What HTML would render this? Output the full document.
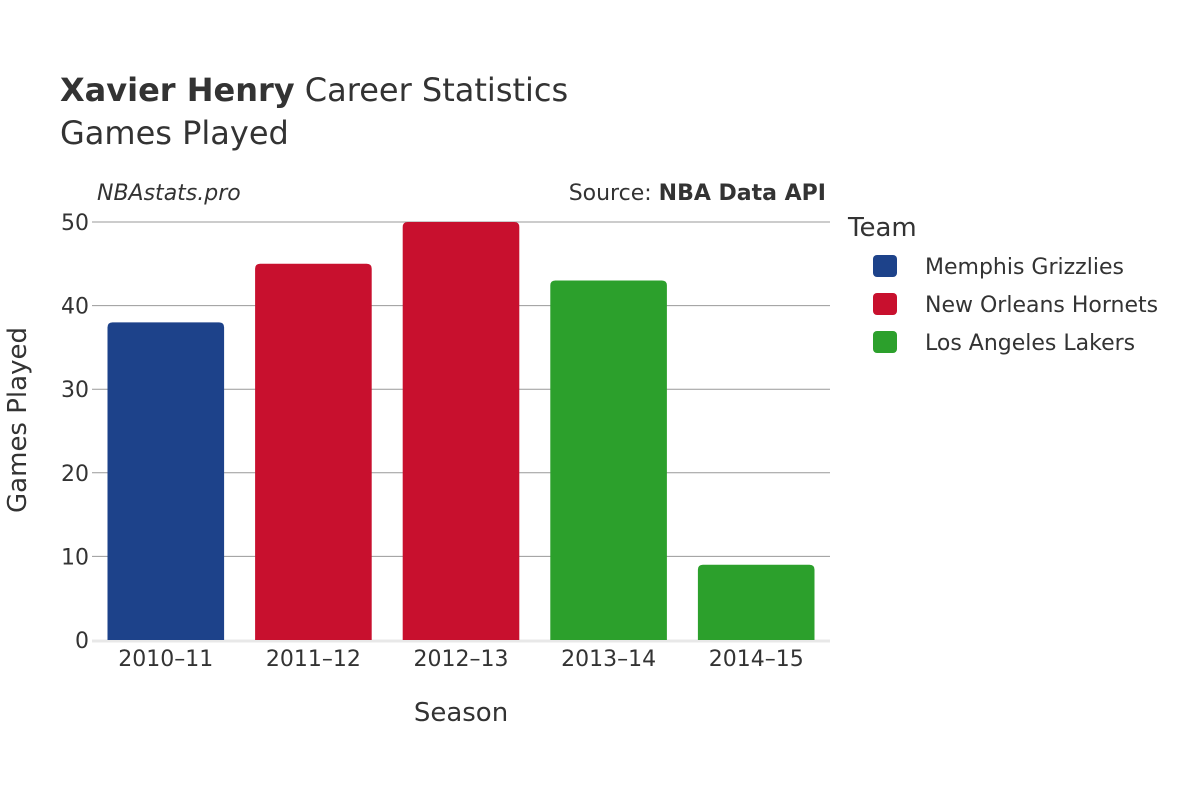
<!DOCTYPE html>
<html><head><meta charset="utf-8"><style>
body{margin:0;background:#fff;}
svg{display:block;font-family:"DejaVu Sans","Liberation Sans",sans-serif;}
</style></head><body>
<svg id="chart" width="1200" height="800" viewBox="0 0 1200 800">
<text x="60" y="101" font-size="32" fill="#333"><tspan font-weight="bold">Xavier Henry</tspan> Career Statistics</text>
<text x="60" y="144" font-size="32" fill="#333">Games Played</text>
<text x="97" y="200" font-size="22" font-style="italic" fill="#333">NBAstats.pro</text>
<text x="826" y="200" font-size="22" fill="#333" text-anchor="end">Source: <tspan font-weight="bold">NBA Data API</tspan></text>
<g id="grid"></g>
<g id="bars"></g>
<g id="xticks"></g>
<g id="yticks"></g>
<text x="461" y="721" font-size="26" fill="#333" text-anchor="middle">Season</text>
<text transform="translate(26,420) rotate(-90)" font-size="26" fill="#333" text-anchor="middle">Games Played</text>
<text x="848" y="236" font-size="26" fill="#333">Team</text>
<g id="legend"></g>
</svg>
<script>
const categories = ["2010–11","2011–12","2012–13","2013–14","2014–15"];
const values = [38,45,50,43,9];
const barTeams = [0,1,1,2,2];
const teams = ["Memphis Grizzlies","New Orleans Hornets","Los Angeles Lakers"];
const teamColors = ["#1d428a","#c8102e","#2ca02c"];
const yTicks = [0,10,20,30,40,50];

const NS="http://www.w3.org/2000/svg";
const x0=92,x1=830,yTop=222,yBot=640,yMax=50;
const band=(x1-x0)/categories.length, bw=band*0.79;
const y=v=>yBot-(v/yMax)*(yBot-yTop);
const xc=i=>x0+band*(i+0.5);
function mk(tag,attrs,parent){const e=document.createElementNS(NS,tag);for(const k in attrs)e.setAttribute(k,attrs[k]);parent.appendChild(e);return e;}
const grid=document.getElementById('grid'),bars=document.getElementById('bars'),xt=document.getElementById('xticks'),yt=document.getElementById('yticks'),lg=document.getElementById('legend');
yTicks.forEach(t=>{
  if(t>0){const l=mk('line',{x1:x0,x2:x1,y1:y(t),y2:y(t),stroke:'#999','stroke-width':1},grid);
  
  }
  const tx=mk('text',{x:x0-3,y:y(t)+8,'font-size':22,fill:'#333','text-anchor':'end'},yt);tx.textContent=t;
  
  
});
values.forEach((v,i)=>{
  const left=xc(i)-bw/2, top=y(v), h=yBot-top, r=Math.min(5,h);
  const d=`M${left},${yBot}V${top+r}Q${left},${top} ${left+r},${top}H${left+bw-r}Q${left+bw},${top} ${left+bw},${top+r}V${yBot}Z`;
  const p=mk('path',{d:d,fill:teamColors[barTeams[i]]},bars);
  
  
  const tx=mk('text',{x:xc(i),y:666,'font-size':22,fill:'#333','text-anchor':'middle'},xt);tx.textContent=categories[i];
  
  
});
const zl=mk('line',{x1:x0,x2:x1,y1:yBot+1,y2:yBot+1,stroke:'#e8e8e8','stroke-width':3},grid);


teams.forEach((t,i)=>{
  const cy=266+i*38;
  const g=mk('g',{},lg);
  
  
  mk('rect',{x:873,y:cy-11,width:24,height:22,rx:4,fill:teamColors[i]},g);
  const tx=mk('text',{x:925,y:cy+8,'font-size':22,fill:'#333'},g);tx.textContent=t;
});
</script>
</body></html>
